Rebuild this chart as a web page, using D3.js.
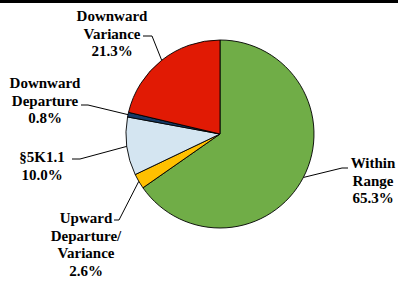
<!DOCTYPE html>
<html><head><meta charset="utf-8">
<script src="https://cdn.jsdelivr.net/npm/d3@7"></script>
<style>body{margin:0;background:#fff}svg{display:block}</style>
</head><body>
<svg id="c" width="398" height="281"></svg>
<script>
const categories = ["Within Range","Upward Departure/Variance","§5K1.1","Downward Departure","Downward Variance"];
const values = [65.3, 2.6, 10.0, 0.8, 21.3];
const labelLines = [["Within","Range","65.3%"],["Upward","Departure/","Variance","2.6%"],["§5K1.1","10.0%"],["Downward","Departure","0.8%"],["Downward","Variance","21.3%"]];
const colors = ["#70AD47","#FFC000","#D4E5F1","#173A66","#E11A04"];

// layout: label center x, first baseline y, leader text-end point, elbow point
const layout = [
  {cx:373, y:168, tx:348, ty:168, ex:342, ey:168},
  {cx:86,  y:223, tx:114, ty:220, ex:119, ey:220},
  {cx:42,  y:162, tx:72,  ty:159, ex:80,  ey:159},
  {cx:45,  y:88,  tx:81,  ty:105, ex:88,  ey:105},
  {cx:112, y:21,  tx:143, ty:36,  ex:152, ey:36}
];

const svg = d3.select("#c");
svg.append("rect").attr("x",0).attr("y",0).attr("width",398).attr("height",3).attr("fill","#000");

const cx = 220, cy = 134, r = 94;
const pie = d3.pie().sort(null).value(d=>d)(values);
const arc = d3.arc().innerRadius(0).outerRadius(r);
const g = svg.append("g").attr("transform",`translate(${cx},${cy})`);
g.selectAll("path").data(pie).join("path")
  .attr("d",arc).attr("fill",(d,i)=>colors[i])
  .attr("stroke","#000").attr("stroke-width",0.9).attr("stroke-linejoin","round");

pie.forEach((d,i)=>{
  const a = (d.startAngle+d.endAngle)/2;
  const px = cx + r*Math.sin(a), py = cy - r*Math.cos(a);
  const L = layout[i];
  svg.append("polyline")
    .attr("points",`${L.tx},${L.ty} ${L.ex},${L.ey} ${px},${py}`)
    .attr("fill","none").attr("stroke","#000").attr("stroke-width",1);
  const t = svg.append("text")
    .attr("text-anchor","middle")
    .attr("font-family","'Liberation Serif','Times New Roman',serif")
    .attr("font-weight","bold").attr("font-size",15).attr("fill","#000");
  labelLines[i].forEach((s,j)=>{
    t.append("tspan").attr("x",L.cx).attr("y",L.y + j*17.5).text(s);
  });
});
</script>
</body></html>
